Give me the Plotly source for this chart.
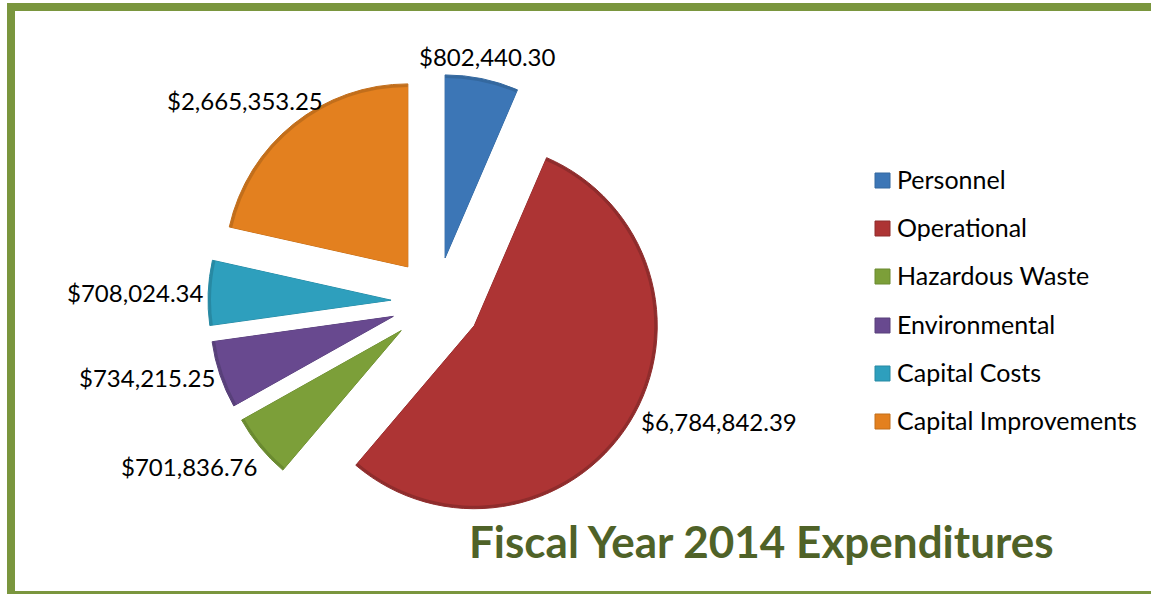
import plotly.graph_objects as go

categories = ["Personnel", "Operational", "Hazardous Waste", "Environmental", "Capital Costs", "Capital Improvements"]
values = [802440.30, 6784842.39, 701836.76, 734215.25, 708024.34, 2665353.25]
value_labels = ["$802,440.30", "$6,784,842.39", "$701,836.76", "$734,215.25", "$708,024.34", "$2,665,353.25"]
face_colors = ["#3C76B6", "#AD3434", "#7C9F39", "#68498F", "#2E9FBD", "#E3801F"]
rim_colors = ["#34689F", "#8F2C2C", "#6A8A30", "#58407A", "#2789A3", "#C26E1B"]
label_centers = [(487, 56), (719, 421), (189, 466), (147, 377), (135, 292), (245, 100)]

W, H = 1151, 594
FONT = "Lato, Carlito, Calibri, sans-serif"
CX, CY, OFFSET, RADIUS, INSET = 436, 302, 45, 183, 3


def fx(x):
    return x / W


def fy(y):
    return 1 - y / H


def pie_layer(colors, radius, line_width):
    half = radius + OFFSET
    return go.Pie(
        labels=categories,
        values=values,
        sort=False,
        direction="clockwise",
        rotation=0,
        pull=OFFSET / radius,
        textinfo="none",
        hoverinfo="label+value",
        showlegend=False,
        marker=dict(colors=colors, line=dict(color=rim_colors, width=line_width)),
        domain=dict(x=[fx(CX - half), fx(CX + half)], y=[fy(CY + half), fy(CY - half)]),
    )


fig = go.Figure([pie_layer(rim_colors, RADIUS, 1), pie_layer(face_colors, RADIUS - INSET, 0)])

shapes = [
    dict(type="rect", xref="paper", yref="paper", x0=fx(11), x1=fx(W + 20), y0=fy(595), y1=fy(7),
         line=dict(color="#7A963E", width=8), fillcolor="rgba(0,0,0,0)", layer="below"),
]
annotations = []
for text, (x, y) in zip(value_labels, label_centers):
    annotations.append(dict(text=text, x=fx(x), y=fy(y), xref="paper", yref="paper", showarrow=False,
                            xanchor="center", yanchor="middle", font=dict(family=FONT, size=24, color="#000000")))

legend_y = [179, 227, 275, 324, 372, 420]
for name, color, rim, y in zip(categories, face_colors, rim_colors, legend_y):
    shapes.append(dict(type="rect", xref="paper", yref="paper", x0=fx(875), x1=fx(890), y0=fy(y + 9), y1=fy(y - 6),
                       fillcolor=color, line=dict(color=rim, width=1)))
    annotations.append(dict(text=name, x=fx(895), y=fy(y), xref="paper", yref="paper", showarrow=False,
                            xanchor="left", yanchor="middle", font=dict(family=FONT, size=25, color="#000000")))

annotations.append(dict(text="<b>Fiscal Year 2014 Expenditures</b>", x=fx(761), y=fy(541), xref="paper", yref="paper",
                        showarrow=False, xanchor="center", yanchor="middle",
                        font=dict(family=FONT, size=44, color="#4F6228")))

fig.update_layout(width=W, height=H, margin=dict(l=0, r=0, t=0, b=0), paper_bgcolor="#FFFFFF",
                  shapes=shapes, annotations=annotations)
fig.write_html("out.html", config=dict(displayModeBar=False),
               post_script="document.body.style.margin='0';document.documentElement.style.overflow='hidden';")
